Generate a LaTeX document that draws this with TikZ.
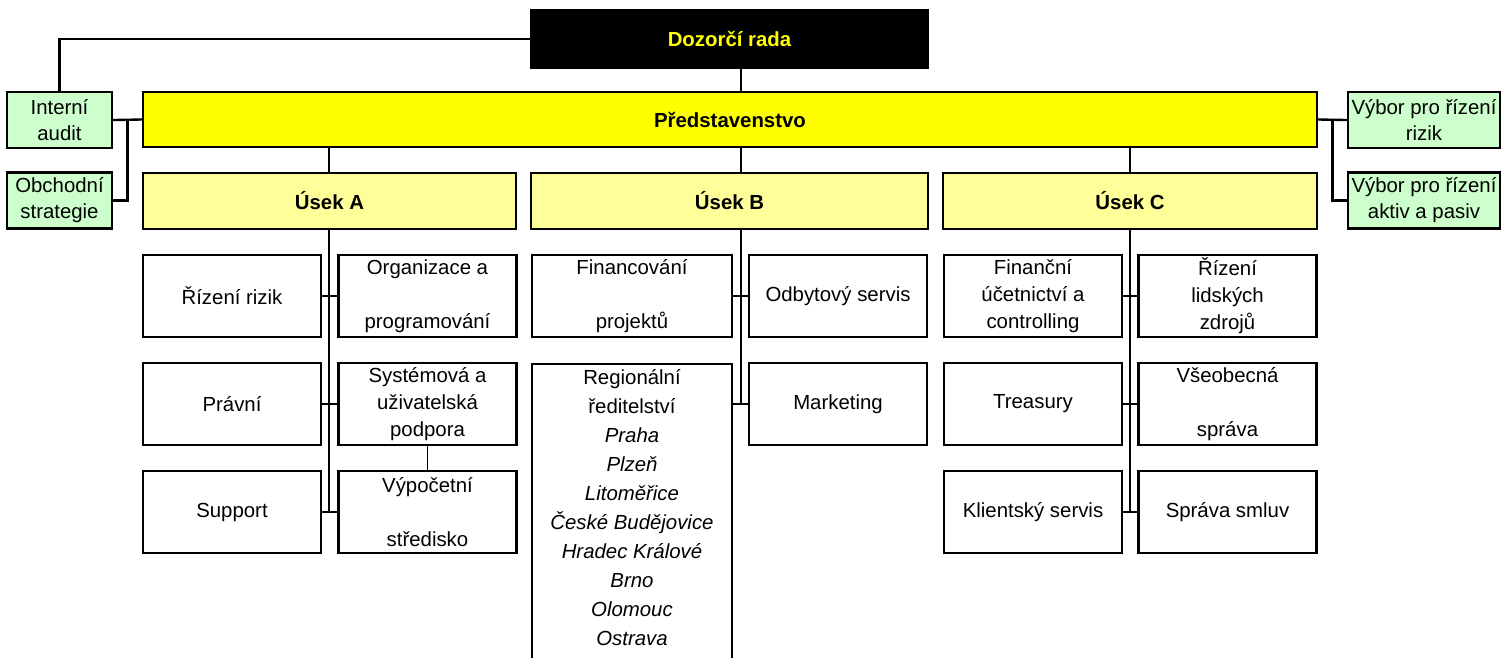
\documentclass[tikz,border=0pt]{standalone}
\usepackage{tikz}
\usepackage{fontspec}
\setmainfont{Liberation Sans}

\definecolor{boardyellow}{HTML}{FFFF00}
\definecolor{unityellow}{HTML}{FFFF99}
\definecolor{staffgreen}{HTML}{CCFFCC}

\tikzset{
  box/.style={draw, line width=1.4pt, align=center, inner sep=0pt,
    font=\fontsize{11.6}{15.4}\selectfont},
  head/.style={box, fill=black, text=boardyellow, minimum width=7.94cm, minimum height=1.14cm,
    font=\fontsize{11.6}{15.4}\selectfont\bfseries},
  board/.style={box, fill=boardyellow, minimum width=23.48cm, minimum height=1.1cm,
    font=\fontsize{11.6}{15.4}\selectfont\bfseries},
  unitbox/.style={box, fill=unityellow, minimum height=1.12cm,
    font=\fontsize{11.6}{15.4}\selectfont\bfseries},
  staff/.style={box, fill=staffgreen, minimum height=1.12cm, font=\fontsize{11.6}{14.8}\selectfont},
  cell/.style={box, fill=white, minimum width=3.56cm, minimum height=1.64cm},
  link/.style={line width=1.35pt}
}

\begin{document}
\begin{tikzpicture}[x=0.02cm, y=-0.02cm]
  \useasboundingbox (0,0) rectangle (1509,657);
  \clip (0,0) rectangle (1509,657);

  \coordinate (trunkA) at (329,0);
  \coordinate (trunkB) at (741,0);
  \coordinate (trunkC) at (1130,0);
  \coordinate (sideL) at (127.5,0);
  \coordinate (sideR) at (1332.5,0);

  \node[head] (dozor) at (729.5,39) {Dozorčí rada};
  \node[board] (predst) at (730,119.5) {Představenstvo};

  \node[staff, minimum width=2.1cm] (interni) at (59.5,120) {Interní\\audit};
  \node[staff, minimum width=2.1cm] (obchod) at (59.5,200.5) {Obchodní\\strategie};
  \node[staff, minimum width=3.04cm] (vyborR) at (1424,120) {Výbor pro řízení\\rizik};
  \node[staff, minimum width=3.04cm] (vyborAP) at (1424,200.5) {Výbor pro řízení\\aktiv a pasiv};

  \node[unitbox, minimum width=7.46cm] (usekA) at (329.5,201) {Úsek A};
  \node[unitbox, minimum width=7.94cm] (usekB) at (729.5,201) {Úsek B};
  \node[unitbox, minimum width=7.48cm] (usekC) at (1130,201) {Úsek C};

  % useky A
  \node[cell] (rizeni) at (232,296) {Řízení rizik};
  \node[cell] (organ) at (427.5,296) {Organizace a\\[15.4pt]programování};
  \node[cell] (pravni) at (232,404) {Právní};
  \node[cell] (system) at (427.5,404) {Systémová a\\uživatelská\\podpora};
  \node[cell] (support) at (232,512) {Support};
  \node[cell] (vypoc) at (427.5,512) {Výpočetní\\[15.4pt]středisko};

  % useky B
  \node[cell, minimum width=4cm] (finproj) at (632,296) {Financování\\[15.4pt]projektů};
  \node[cell] (odbyt) at (838,296) {Odbytový servis};
  \node[cell] (market) at (838,404) {Marketing};
  \node[cell, minimum width=4cm, anchor=north, inner ysep=0.11cm, text depth=1cm,
    font=\fontsize{11.6}{16.5}\selectfont] (regio) at (632,363)
    {Regionální\\ředitelství\\\textit{Praha}\\\textit{Plzeň}\\\textit{Litoměřice}\\
     \textit{České Budějovice}\\\textit{Hradec Králové}\\\textit{Brno}\\\textit{Olomouc}\\\textit{Ostrava}};

  % useky C
  \node[cell] (finucet) at (1033,296) {Finanční\\účetnictví a\\controlling};
  \node[cell] (lidzdr) at (1227.5,296) {Řízení\\lidských\\zdrojů};
  \node[cell] (treas) at (1033,404) {Treasury};
  \node[cell] (vseob) at (1227.5,404) {Všeobecná\\[15.4pt]správa};
  \node[cell] (klient) at (1033,512) {Klientský servis};
  \node[cell] (smluv) at (1227.5,512) {Správa smluv};

  \draw[link] (interni.north) |- (dozor.west);
  \draw[link] (dozor.south -| trunkB) -- (predst.north -| trunkB);
  \draw[link] (interni.east) -- (predst.west);
  \draw[link] (obchod.east) -| (sideL |- interni.east);
  \draw[link] (predst.east) -- (vyborR.west);
  \draw[link] (vyborAP.west) -| (sideR |- vyborR.west);

  \draw[link] (predst.south -| trunkA) -- (usekA.north -| trunkA);
  \draw[link] (predst.south -| trunkB) -- (usekB.north -| trunkB);
  \draw[link] (predst.south -| trunkC) -- (usekC.north -| trunkC);

  \draw[link] (usekA.south -| trunkA) -- (support.east -| trunkA);
  \draw[link] (rizeni.east) -- (organ.west);
  \draw[link] (pravni.east) -- (system.west);
  \draw[link] (support.east) -- (vypoc.west);
  \draw[line width=0.6pt] (system.south) -- (vypoc.north);

  \draw[link] (usekB.south -| trunkB) -- (market.west -| trunkB);
  \draw[link] (finproj.east) -- (odbyt.west);
  \draw[link] (market.west -| regio.east) -- (market.west);

  \draw[link] (usekC.south -| trunkC) -- (klient.east -| trunkC);
  \draw[link] (finucet.east) -- (lidzdr.west);
  \draw[link] (treas.east) -- (vseob.west);
  \draw[link] (klient.east) -- (smluv.west);
\end{tikzpicture}
\end{document}
